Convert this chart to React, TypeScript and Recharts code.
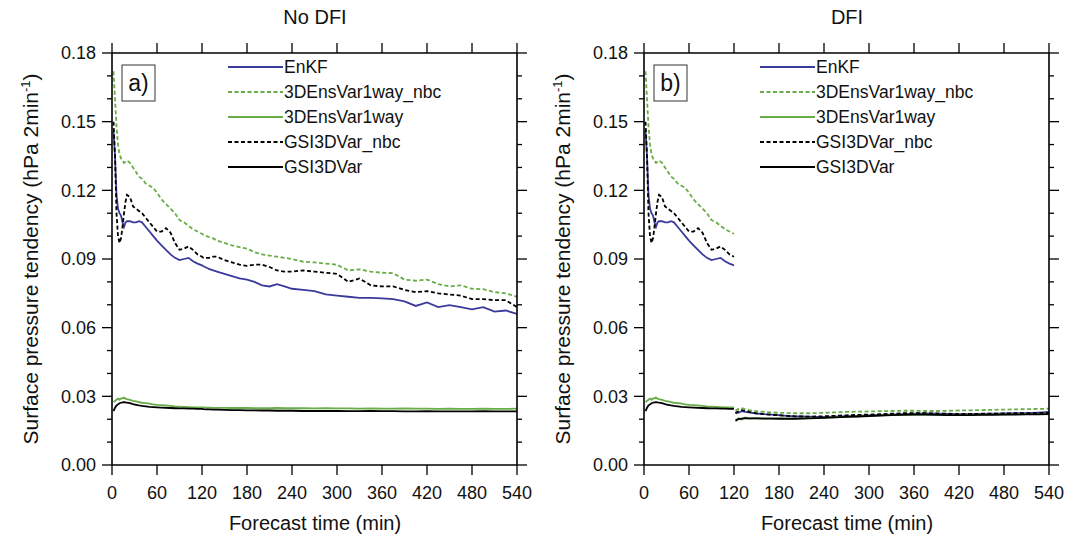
import React from 'react';
import { LineChart, Line, XAxis, YAxis } from 'recharts';

// forecast minutes: spin-up part (shared by both runs) and the rest
const earlyMinutes = [2, 4, 6, 8, 10, 12, 14, 16, 18, 20, 24, 28, 32, 36, 40, 45, 50, 55, 60, 66, 72, 78, 84, 90, 96, 102, 108, 114, 120];
const lateMinutes = [122, 126, 130, 135, 140, 150, 160, 170, 180, 190, 200, 210, 220, 230, 240, 255, 270, 285, 300, 315, 330, 345, 360, 375, 390, 405, 420, 435, 450, 465, 480, 495, 510, 525, 540];

const seriesNames = ['EnKF', '3DEnsVar1way_nbc', '3DEnsVar1way', 'GSI3DVar_nbc', 'GSI3DVar'];
const panelTitles = ['No DFI', 'DFI'];
const panelTags = ['a)', 'b)'];
const xTicks = [0, 60, 120, 180, 240, 300, 360, 420, 480, 540];
const yTicks = [0, 0.01, 0.02, 0.03, 0.04, 0.05, 0.06, 0.07, 0.08, 0.09, 0.1, 0.11, 0.12, 0.13, 0.14, 0.15, 0.16, 0.17, 0.18];

// first 120 min
const enkfEarly = [0.146, 0.135, 0.118, 0.112, 0.110, 0.109, 0.106, 0.104, 0.106, 0.1065, 0.1065, 0.106, 0.106, 0.1065, 0.106, 0.104, 0.102, 0.100, 0.098, 0.096, 0.094, 0.092, 0.0905, 0.0895, 0.090, 0.0905, 0.089, 0.088, 0.0872];
const ensNbcEarly = [0.172, 0.160, 0.148, 0.140, 0.136, 0.134, 0.133, 0.132, 0.1325, 0.133, 0.132, 0.130, 0.128, 0.126, 0.125, 0.123, 0.122, 0.121, 0.119, 0.116, 0.114, 0.112, 0.110, 0.107, 0.106, 0.1045, 0.103, 0.102, 0.101];
const ensEarly = [0.0275, 0.028, 0.0285, 0.029, 0.0285, 0.029, 0.0292, 0.0295, 0.029, 0.0288, 0.0285, 0.028, 0.0278, 0.0275, 0.0272, 0.027, 0.0268, 0.0265, 0.0263, 0.0262, 0.026, 0.0258, 0.0256, 0.0255, 0.0254, 0.0253, 0.0252, 0.0252, 0.0252];
const gsiNbcEarly = [0.150, 0.135, 0.110, 0.100, 0.097, 0.099, 0.104, 0.110, 0.115, 0.118, 0.117, 0.113, 0.112, 0.111, 0.110, 0.108, 0.106, 0.104, 0.102, 0.102, 0.1035, 0.1015, 0.097, 0.094, 0.0945, 0.0955, 0.094, 0.092, 0.091];
const gsiEarly = [0.0235, 0.025, 0.026, 0.0265, 0.027, 0.0272, 0.0274, 0.0275, 0.0274, 0.0272, 0.027, 0.0266, 0.0263, 0.026, 0.0258, 0.0256, 0.0254, 0.0253, 0.0252, 0.0251, 0.025, 0.0249, 0.0248, 0.0247, 0.0247, 0.0246, 0.0246, 0.0245, 0.0245];

// No DFI, after 120 min
const noDfiEnkfLate = [0.0868, 0.0862, 0.0856, 0.085, 0.0845, 0.0835, 0.0825, 0.0815, 0.081, 0.080, 0.0785, 0.078, 0.079, 0.078, 0.077, 0.0765, 0.076, 0.0745, 0.074, 0.0735, 0.073, 0.073, 0.0728, 0.0725, 0.0715, 0.0695, 0.071, 0.069, 0.0698, 0.069, 0.068, 0.069, 0.067, 0.0675, 0.066];
const noDfiEnsNbcLate = [0.1005, 0.100, 0.0995, 0.099, 0.098, 0.097, 0.096, 0.0952, 0.0945, 0.093, 0.092, 0.0915, 0.091, 0.0905, 0.090, 0.0888, 0.0885, 0.088, 0.0875, 0.085, 0.0855, 0.0845, 0.084, 0.0838, 0.081, 0.0805, 0.081, 0.079, 0.078, 0.0785, 0.077, 0.0768, 0.0755, 0.075, 0.0735];
const noDfiEnsLate = [0.0252, 0.0251, 0.0251, 0.025, 0.025, 0.025, 0.0249, 0.0249, 0.0249, 0.0248, 0.0248, 0.0248, 0.0249, 0.0248, 0.0248, 0.0248, 0.0247, 0.0248, 0.0247, 0.0247, 0.0246, 0.0247, 0.0246, 0.0246, 0.0247, 0.0246, 0.0246, 0.0245, 0.0246, 0.0245, 0.0245, 0.0246, 0.0245, 0.0245, 0.0246];
const noDfiGsiNbcLate = [0.0905, 0.0905, 0.0905, 0.091, 0.091, 0.0895, 0.0885, 0.0875, 0.087, 0.0875, 0.0875, 0.0865, 0.085, 0.0845, 0.0845, 0.085, 0.0845, 0.084, 0.0835, 0.080, 0.0815, 0.0785, 0.078, 0.078, 0.0765, 0.0755, 0.076, 0.075, 0.0745, 0.074, 0.0725, 0.0725, 0.072, 0.072, 0.069];
const noDfiGsiLate = [0.0244, 0.0243, 0.0243, 0.0242, 0.0242, 0.0241, 0.024, 0.024, 0.0239, 0.0239, 0.0238, 0.0238, 0.0237, 0.0237, 0.0237, 0.0236, 0.0236, 0.0236, 0.0236, 0.0235, 0.0235, 0.0236, 0.0235, 0.0235, 0.0234, 0.0234, 0.0235, 0.0234, 0.0234, 0.0234, 0.0234, 0.0235, 0.0234, 0.0234, 0.0234];

// DFI, after 120 min
const dfiEnkfLate = [0.0232, 0.0228, 0.0235, 0.0232, 0.023, 0.0225, 0.0222, 0.022, 0.0218, 0.0215, 0.0213, 0.0212, 0.0211, 0.021, 0.021, 0.0211, 0.0213, 0.0215, 0.0217, 0.0219, 0.022, 0.0222, 0.0224, 0.0225, 0.0224, 0.0223, 0.0222, 0.0222, 0.0223, 0.0224, 0.0225, 0.0226, 0.0227, 0.0229, 0.0232];
const dfiEnsNbcLate = [0.0238, 0.0245, 0.0248, 0.0244, 0.024, 0.0235, 0.0232, 0.023, 0.0228, 0.0227, 0.0226, 0.0226, 0.0226, 0.0227, 0.0228, 0.023, 0.0232, 0.0233, 0.0234, 0.0235, 0.0236, 0.0237, 0.0237, 0.0236, 0.0236, 0.0237, 0.0238, 0.0239, 0.024, 0.0241, 0.0242, 0.0243, 0.0244, 0.0245, 0.0246];
const dfiEnsLate = [0.019, 0.0205, 0.0198, 0.0208, 0.0203, 0.0205, 0.0204, 0.0204, 0.0204, 0.0203, 0.0203, 0.0204, 0.0205, 0.0206, 0.0207, 0.0209, 0.0211, 0.0213, 0.0215, 0.0217, 0.0219, 0.022, 0.0221, 0.022, 0.022, 0.0219, 0.0219, 0.022, 0.022, 0.0221, 0.0221, 0.0222, 0.0222, 0.0223, 0.0224];
const dfiGsiNbcLate = [0.0225, 0.0235, 0.024, 0.0236, 0.0232, 0.0226, 0.0222, 0.022, 0.0217, 0.0215, 0.0213, 0.0212, 0.0211, 0.0212, 0.0213, 0.0215, 0.0217, 0.0219, 0.022, 0.0222, 0.0224, 0.0226, 0.0227, 0.0226, 0.0225, 0.0224, 0.0223, 0.0223, 0.0224, 0.0224, 0.0225, 0.0226, 0.0226, 0.0227, 0.0228];
const dfiGsiLate = [0.0195, 0.020, 0.0203, 0.0205, 0.0204, 0.0204, 0.0203, 0.0203, 0.0202, 0.0202, 0.0202, 0.0203, 0.0204, 0.0205, 0.0206, 0.0208, 0.021, 0.0212, 0.0214, 0.0216, 0.0218, 0.0219, 0.022, 0.022, 0.0219, 0.0218, 0.0218, 0.0218, 0.0219, 0.0219, 0.022, 0.022, 0.0221, 0.0221, 0.0222];

const FONT = '"Liberation Sans", Arial, Helvetica, sans-serif';
const BLUE = '#3a3a9c';
const GREEN = '#68ad48';
const DASH = '4 2.5';
const keys = ['enkf', 'ensNbc', 'ens', 'gsiNbc', 'gsi'];
const styles = [
  { color: BLUE, dash: undefined },
  { color: GREEN, dash: DASH },
  { color: GREEN, dash: undefined },
  { color: '#000', dash: DASH },
  { color: '#000', dash: undefined },
];

const early = [enkfEarly, ensNbcEarly, ensEarly, gsiNbcEarly, gsiEarly];
const noDfiLate = [noDfiEnkfLate, noDfiEnsNbcLate, noDfiEnsLate, noDfiGsiNbcLate, noDfiGsiLate];
const dfiLate = [dfiEnkfLate, dfiEnsNbcLate, dfiEnsLate, dfiGsiNbcLate, dfiGsiLate];

const makeRows = (times: number[], cols: number[][], suffix: string) =>
  times.map((t, i) => {
    const row: any = { t };
    keys.forEach((k, j) => { row[k + suffix] = cols[j][i]; });
    return row;
  });

// No DFI is one continuous run; DFI restarts after 120 min so the segments stay apart
const noDfiRows = [...makeRows(earlyMinutes, early, ''), ...makeRows(lateMinutes, noDfiLate, '')];
const dfiRows = [...makeRows(earlyMinutes, early, 'A'), ...makeRows(lateMinutes, dfiLate, 'B')];

const isMajor = (v: number) => Math.round(v * 100) % 3 === 0;

const LeftTick = (props: any) => {
  const { x, y, payload } = props;
  const major = isMajor(payload.value);
  return (
    <g>
      <line x1={x - (major ? 10 : 5)} x2={x} y1={y} y2={y} stroke="#000" strokeWidth={1.3} />
      {major && (
        <text x={x - 16} y={y} dy="0.355em" textAnchor="end" fontSize={18} fontFamily={FONT} fill="#111">
          {payload.value.toFixed(2)}
        </text>
      )}
    </g>
  );
};

const RightTick = (props: any) => {
  const { x, y, payload } = props;
  const major = isMajor(payload.value);
  return <line x1={x} x2={x + (major ? 10 : 5)} y1={y} y2={y} stroke="#000" strokeWidth={1.3} />;
};

const BottomTick = (props: any) => {
  const { x, y, payload } = props;
  return (
    <g>
      <line x1={x} x2={x} y1={y} y2={y + 10} stroke="#000" strokeWidth={1.3} />
      <text x={x} y={y + 21} dy="0.71em" textAnchor="middle" fontSize={18} fontFamily={FONT} fill="#111">
        {payload.value}
      </text>
    </g>
  );
};

const TopTick = (props: any) => {
  const { x, y } = props;
  return <line x1={x} x2={x} y1={y - 10} y2={y} stroke="#000" strokeWidth={1.3} />;
};

const axisLine = { stroke: '#000', strokeWidth: 1.6 };

const Panel = ({ index, left }: { index: number; left: number }) => {
  const dfi = index === 1;
  const rows = dfi ? dfiRows : noDfiRows;
  const lineKeys = dfi ? [...keys.map(k => k + 'A'), ...keys.map(k => k + 'B')] : keys;
  return (
    <div style={{ position: 'absolute', left, top: 0, width: 540, height: 540 }}>
      <LineChart width={540} height={540} data={rows} margin={{ top: 52, right: 22, bottom: 35, left: 0 }}>
        <XAxis dataKey="t" type="number" domain={[0, 540]} ticks={xTicks} interval={0} allowDataOverflow
          height={40} tickSize={0} tickMargin={0} tickLine={false} axisLine={axisLine} tick={<BottomTick />} />
        <XAxis xAxisId="top" orientation="top" dataKey="t" type="number" domain={[0, 540]} ticks={xTicks} interval={0}
          allowDataOverflow height={1} tickSize={0} tickMargin={0} tickLine={false} axisLine={axisLine} tick={<TopTick />} />
        <YAxis type="number" domain={[0, 0.18]} ticks={yTicks} interval={0} allowDataOverflow width={112}
          tickSize={0} tickMargin={0} tickLine={false} axisLine={axisLine} tick={<LeftTick />} />
        <YAxis yAxisId="r" orientation="right" type="number" domain={[0, 0.18]} ticks={yTicks} interval={0}
          allowDataOverflow width={1} tickSize={0} tickMargin={0} tickLine={false} axisLine={axisLine} tick={<RightTick />} />
        {lineKeys.map((k, i) => {
          const s = styles[i % 5];
          return (
            <Line key={k} dataKey={k} type="linear" stroke={s.color} strokeWidth={1.8} strokeDasharray={s.dash}
              dot={false} activeDot={false} isAnimationActive={false} />
          );
        })}
      </LineChart>

      <svg width={540} height={540} style={{ position: 'absolute', left: 0, top: 0, pointerEvents: 'none' }}>
        <rect x={122} y={65} width={33} height={36} fill="#fff" stroke="#333" strokeWidth={1} />
        <text x={138.5} y={83} dy="0.35em" textAnchor="middle" fontSize={23} fontFamily={FONT} fill="#111">
          {panelTags[index]}
        </text>
        {seriesNames.map((name, i) => (
          <g key={name}>
            <line x1={228} x2={283} y1={67 + 25 * i} y2={67 + 25 * i} stroke={styles[i].color} strokeWidth={1.8}
              strokeDasharray={styles[i].dash} />
            <text x={284} y={67 + 25 * i} dy="0.35em" fontSize={17.5} fontFamily={FONT} fill="#111">{name}</text>
          </g>
        ))}
      </svg>

      <div style={{ position: 'absolute', left: 315, top: 17, transform: 'translate(-50%, -50%)', fontSize: 20,
        fontFamily: FONT, whiteSpace: 'nowrap', color: '#111' }}>{panelTitles[index]}</div>
      <div style={{ position: 'absolute', left: 315, top: 523, transform: 'translate(-50%, -50%)', fontSize: 20,
        fontFamily: FONT, whiteSpace: 'nowrap', color: '#111' }}>Forecast time (min)</div>
      <div style={{ position: 'absolute', left: 30, top: 259, transform: 'translate(-50%, -50%) rotate(-90deg)',
        fontSize: 21, fontFamily: FONT, whiteSpace: 'nowrap', color: '#111' }}>
        Surface pressure tendency (hPa 2min<sup style={{ fontSize: 13 }}>-1</sup>)
      </div>
    </div>
  );
};

export default function App() {
  return (
    <div style={{ position: 'absolute', left: 0, top: 0, width: 1077, height: 540, background: '#fff', overflow: 'hidden' }}>
      <Panel index={0} left={0} />
      <Panel index={1} left={532} />
    </div>
  );
}
